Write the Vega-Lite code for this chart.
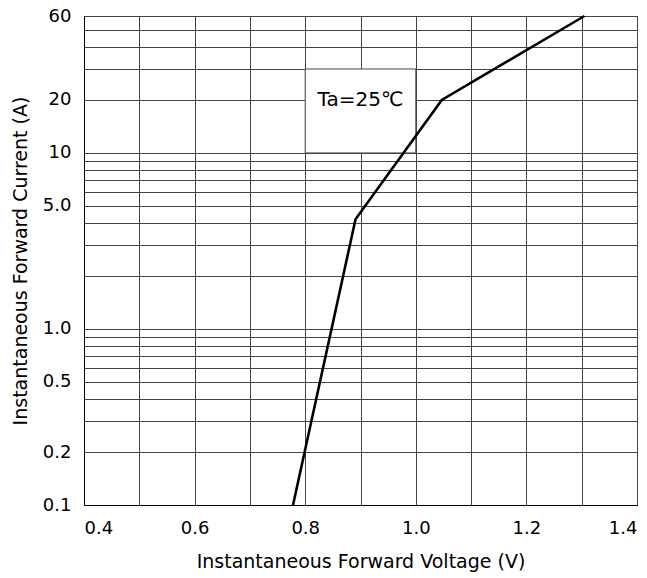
{
  "$schema": "https://vega.github.io/schema/vega-lite/v6.json",
  "autosize": {"type": "none"},
  "padding": {"left": 84, "top": 16, "right": 10, "bottom": 73},
  "width": 553,
  "height": 489,
  "background": "white",
  "datasets": {
    "curve": [
      {"voltage": 0.778, "current": 0.1},
      {"voltage": 0.891, "current": 4.2},
      {"voltage": 1.047, "current": 20},
      {"voltage": 1.305, "current": 60}
    ],
    "note": [
      {"x1": 0.8, "x2": 1.0, "y1": 10, "y2": 30, "xc": 0.9, "yc": 20, "label": "Ta=25℃"}
    ]
  },
  "layer": [
    {
      "data": {"name": "note"},
      "mark": {"type": "rect", "fill": "white", "stroke": "#444", "strokeWidth": 1},
      "encoding": {
        "x": {"field": "x1", "type": "quantitative"},
        "x2": {"field": "x2"},
        "y": {"field": "y1", "type": "quantitative"},
        "y2": {"field": "y2"}
      }
    },
    {
      "data": {"name": "note"},
      "mark": {"type": "text", "font": "DejaVu Sans", "fontSize": 20, "color": "black", "baseline": "middle", "align": "center"},
      "encoding": {
        "x": {"field": "xc", "type": "quantitative"},
        "y": {"field": "yc", "type": "quantitative"},
        "text": {"field": "label"}
      }
    },
    {
      "data": {"name": "curve"},
      "mark": {"type": "line", "color": "black", "strokeWidth": 2.6},
      "encoding": {
        "x": {
          "field": "voltage",
          "type": "quantitative",
          "scale": {"domain": [0.4, 1.4], "nice": false, "zero": false},
          "axis": {
            "title": "Instantaneous Forward Voltage (V)",
            "values": [0.4, 0.5, 0.6, 0.7, 0.8, 0.9, 1.0, 1.1, 1.2, 1.3, 1.4],
            "labelExpr": "round(datum.value * 10) % 2 == 0 ? format(datum.value, '.1f') : ''",
            "labelPadding": 14,
            "titlePadding": 15
          }
        },
        "y": {
          "field": "current",
          "type": "quantitative",
          "scale": {"type": "log", "domain": [0.1, 60], "nice": false},
          "axis": {
            "title": "Instantaneous Forward Current (A)",
            "values": [0.1, 0.2, 0.3, 0.4, 0.5, 0.6, 0.7, 0.8, 0.9, 1, 2, 3, 4, 5, 6, 7, 8, 9, 10, 20, 30, 40, 50, 60],
            "labelExpr": "indexof([0.1, 0.2, 0.5, 1, 5, 10, 20, 60], datum.value) >= 0 ? (datum.value < 10 ? format(datum.value, '.1f') : format(datum.value, 'd')) : ''",
            "labelPadding": 13,
            "titlePadding": 12
          }
        }
      }
    }
  ],
  "config": {
    "view": {"stroke": "black", "strokeWidth": 1},
    "axis": {
      "grid": true,
      "gridColor": "#444",
      "gridOpacity": 1,
      "gridWidth": 1,
      "domainColor": "black",
      "ticks": false,
      "tickSize": 0,
      "labelFont": "DejaVu Sans",
      "labelFontSize": 18,
      "labelColor": "black",
      "labelOverlap": false,
      "titleFont": "DejaVu Sans",
      "titleFontSize": 19,
      "titleFontWeight": "normal",
      "titleColor": "black"
    }
  }
}
